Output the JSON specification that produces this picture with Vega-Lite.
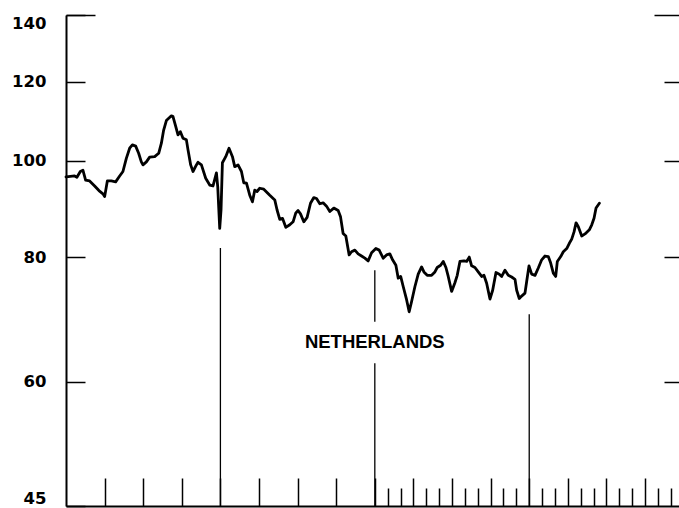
{
  "$schema": "https://vega.github.io/schema/vega-lite/v6.json",
  "width": 613,
  "height": 491,
  "autosize": {"type": "none"},
  "padding": {"left": 66, "top": 15, "right": 0, "bottom": 2},
  "background": "white",
  "config": {
    "view": {"stroke": null},
    "axis": {"grid": false, "labelFont": "DejaVu Sans", "labelFontWeight": "bold", "labelFontSize": 16.5, "labelColor": "black", "tickColor": "black", "domainColor": "black", "tickWidth": 1.5}
  },
  "resolve": {"axis": {"x": "independent", "y": "independent"}},
  "layer": [
    {
      "data": {"values": [
        {"t":0,"v":96.3},{"t":0.223,"v":96.5},{"t":0.283,"v":96.2},{"t":0.371,"v":97.5},{"t":0.438,"v":97.8},{"t":0.508,"v":95.6},{"t":0.612,"v":95.4},{"t":0.742,"v":94.3},{"t":0.853,"v":93.3},{"t":0.957,"v":92.6},{"t":1.001,"v":92.0},{"t":1.071,"v":95.4},{"t":1.174,"v":95.4},{"t":1.286,"v":95.2},{"t":1.39,"v":96.5},{"t":1.475,"v":97.5},{"t":1.563,"v":100.5},{"t":1.649,"v":102.9},{"t":1.719,"v":103.7},{"t":1.805,"v":103.4},{"t":1.882,"v":101.7},{"t":1.952,"v":99.7},{"t":1.994,"v":99.0},{"t":2.082,"v":99.7},{"t":2.167,"v":100.8},{"t":2.297,"v":100.9},{"t":2.401,"v":101.7},{"t":2.471,"v":104.1},{"t":2.53,"v":107.3},{"t":2.6,"v":109.7},{"t":2.73,"v":110.9},{"t":2.772,"v":110.7},{"t":2.842,"v":108.2},{"t":2.901,"v":106.1},{"t":2.963,"v":106.9},{"t":3.031,"v":105.3},{"t":3.119,"v":104.9},{"t":3.161,"v":102.5},{"t":3.23,"v":99.0},{"t":3.29,"v":97.5},{"t":3.378,"v":99.0},{"t":3.42,"v":99.6},{"t":3.508,"v":99.0},{"t":3.619,"v":96.0},{"t":3.723,"v":94.5},{"t":3.809,"v":94.3},{"t":3.897,"v":97.2},{"t":3.931,"v":94.1},{"t":3.982,"v":85.5},{"t":4.016,"v":89.2},{"t":4.052,"v":99.5},{"t":4.138,"v":100.9},{"t":4.223,"v":102.9},{"t":4.312,"v":100.9},{"t":4.371,"v":98.6},{"t":4.457,"v":99.0},{"t":4.545,"v":97.5},{"t":4.605,"v":95.0},{"t":4.675,"v":94.9},{"t":4.76,"v":92.3},{"t":4.83,"v":90.9},{"t":4.89,"v":93.4},{"t":4.949,"v":93.1},{"t":5.019,"v":93.8},{"t":5.123,"v":93.6},{"t":5.279,"v":92.3},{"t":5.408,"v":91.3},{"t":5.468,"v":89.2},{"t":5.538,"v":87.3},{"t":5.608,"v":87.5},{"t":5.694,"v":85.7},{"t":5.797,"v":86.2},{"t":5.883,"v":86.8},{"t":5.953,"v":88.6},{"t":6.012,"v":89.1},{"t":6.075,"v":88.4},{"t":6.16,"v":86.8},{"t":6.246,"v":87.7},{"t":6.334,"v":90.6},{"t":6.42,"v":91.8},{"t":6.49,"v":91.6},{"t":6.575,"v":90.5},{"t":6.661,"v":90.7},{"t":6.749,"v":90.0},{"t":6.834,"v":88.9},{"t":6.938,"v":89.6},{"t":7.05,"v":89.1},{"t":7.112,"v":87.8},{"t":7.179,"v":84.5},{"t":7.249,"v":84.0},{"t":7.335,"v":80.4},{"t":7.397,"v":81.0},{"t":7.483,"v":81.3},{"t":7.568,"v":80.6},{"t":7.656,"v":80.2},{"t":7.742,"v":79.8},{"t":7.827,"v":79.3},{"t":7.916,"v":80.8},{"t":8.027,"v":81.6},{"t":8.113,"v":81.3},{"t":8.216,"v":79.8},{"t":8.304,"v":80.4},{"t":8.39,"v":80.6},{"t":8.46,"v":79.5},{"t":8.546,"v":78.5},{"t":8.606,"v":76.2},{"t":8.67,"v":76.5},{"t":8.737,"v":74.7},{"t":8.823,"v":72.5},{"t":8.89,"v":70.5},{"t":8.953,"v":72.2},{"t":9.038,"v":74.7},{"t":9.124,"v":76.9},{"t":9.212,"v":78.2},{"t":9.272,"v":77.3},{"t":9.357,"v":76.7},{"t":9.471,"v":76.7},{"t":9.557,"v":77.3},{"t":9.616,"v":78.1},{"t":9.705,"v":78.5},{"t":9.772,"v":79.2},{"t":9.842,"v":78.1},{"t":9.902,"v":76.5},{"t":9.99,"v":73.9},{"t":10.075,"v":75.4},{"t":10.135,"v":76.7},{"t":10.205,"v":79.2},{"t":10.309,"v":79.3},{"t":10.379,"v":79.2},{"t":10.446,"v":80.0},{"t":10.508,"v":78.4},{"t":10.594,"v":78.1},{"t":10.679,"v":77.3},{"t":10.768,"v":76.5},{"t":10.827,"v":76.7},{"t":10.897,"v":75.3},{"t":10.983,"v":72.6},{"t":11.053,"v":74.1},{"t":11.139,"v":77.2},{"t":11.224,"v":76.9},{"t":11.286,"v":76.5},{"t":11.372,"v":77.6},{"t":11.457,"v":76.7},{"t":11.545,"v":76.4},{"t":11.631,"v":76.0},{"t":11.675,"v":74.1},{"t":11.742,"v":72.7},{"t":11.804,"v":73.1},{"t":11.89,"v":73.6},{"t":11.934,"v":75.6},{"t":11.994,"v":78.4},{"t":12.064,"v":76.9},{"t":12.15,"v":76.7},{"t":12.235,"v":78.0},{"t":12.323,"v":79.5},{"t":12.409,"v":80.2},{"t":12.494,"v":80.1},{"t":12.556,"v":78.9},{"t":12.624,"v":77.1},{"t":12.686,"v":76.5},{"t":12.728,"v":79.2},{"t":12.816,"v":80.1},{"t":12.883,"v":81.0},{"t":12.971,"v":81.6},{"t":13.039,"v":82.6},{"t":13.101,"v":83.4},{"t":13.161,"v":84.8},{"t":13.213,"v":86.6},{"t":13.272,"v":85.8},{"t":13.36,"v":84.0},{"t":13.446,"v":84.4},{"t":13.557,"v":85.2},{"t":13.62,"v":86.2},{"t":13.679,"v":87.5},{"t":13.731,"v":89.6},{"t":13.817,"v":90.6}
      ]},
      "mark": {"type": "line", "color": "black", "strokeWidth": 2.8, "strokeJoin": "round", "strokeCap": "round"},
      "encoding": {
        "x": {"field": "t", "type": "quantitative", "scale": {"domain": [0, 15.88], "nice": false, "zero": false},
          "axis": {"orient": "bottom", "values": [1,2,3,4,5,6,7,8,9,10,11,12,13,14,15], "tickSize": -28, "labels": false, "domain": true, "domainWidth": 2, "title": null}},
        "y": {"field": "v", "type": "quantitative", "scale": {"type": "log", "domain": [45, 140], "nice": false},
          "axis": {"orient": "left", "values": [45,60,80,100,120,140], "tickSize": -19, "labelPadding": 39, "domain": true, "domainWidth": 2, "labelFlush": true, "labelFlushOffset": 0, "labelOverlap": false, "title": null}}
      }
    },
    {
      "data": {"values": [{"t": 4, "lo": 45, "hi": 81.7}, {"t": 12, "lo": 45, "hi": 70.1}]},
      "mark": {"type": "rule", "color": "black", "strokeWidth": 1.3},
      "encoding": {
        "x": {"field": "t", "type": "quantitative", "scale": {"domain": [0, 15.88], "nice": false, "zero": false},
          "axis": {"orient": "bottom", "values": [8.333,8.667,9.333,9.667,10.333,10.667,11.333,11.667,12.333,12.667,13.333,13.667,14.333,14.667,15.333,15.667], "tickSize": -18, "labels": false, "domain": false, "title": null}},
        "y": {"field": "lo", "type": "quantitative", "scale": {"type": "log", "domain": [45, 140], "nice": false},
          "axis": {"orient": "right", "values": [60,80,100,120], "tickSize": -15, "labels": false, "domain": false, "title": null}},
        "y2": {"field": "hi"}
      }
    },
    {
      "data": {"values": [{"t": 8, "lo": 45, "hi": 62.6}, {"t": 8, "lo": 68.9, "hi": 77.6}]},
      "mark": {"type": "rule", "color": "black", "strokeWidth": 1.3},
      "encoding": {
        "x": {"field": "t", "type": "quantitative", "scale": {"domain": [0, 15.88], "nice": false, "zero": false}, "axis": null},
        "y": {"field": "lo", "type": "quantitative", "scale": {"type": "log", "domain": [45, 140], "nice": false},
          "axis": {"orient": "left", "values": [140], "tickSize": -29, "labels": false, "domain": false, "title": null}},
        "y2": {"field": "hi"}
      }
    },
    {
      "data": {"values": [{"t": 8, "v": 65.8, "label": "NETHERLANDS"}]},
      "mark": {"type": "text", "font": "Liberation Sans", "fontWeight": "bold", "fontSize": 18.5, "align": "center", "baseline": "middle", "color": "black"},
      "encoding": {
        "x": {"field": "t", "type": "quantitative", "scale": {"domain": [0, 15.88], "nice": false, "zero": false}, "axis": null},
        "y": {"field": "v", "type": "quantitative", "scale": {"type": "log", "domain": [45, 140], "nice": false},
          "axis": {"orient": "right", "values": [140], "tickSize": -25, "labels": false, "domain": false, "title": null}},
        "text": {"field": "label"}
      }
    }
  ]
}
